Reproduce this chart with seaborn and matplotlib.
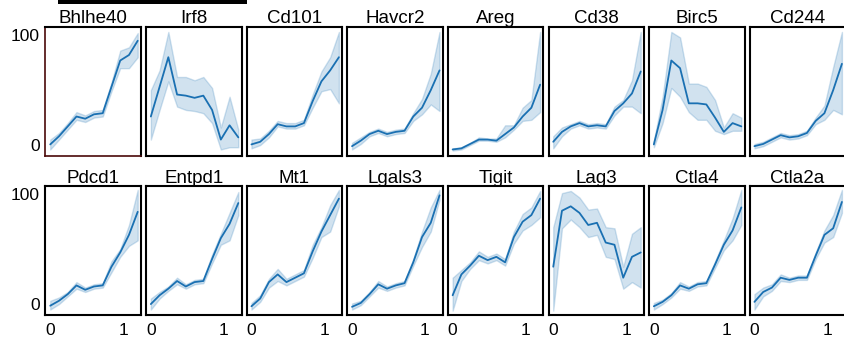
import numpy as np
import pandas as pd
import matplotlib
matplotlib.use("Agg")
import matplotlib.pyplot as plt
from matplotlib.patches import Rectangle
import seaborn as sns

# pseudotime bins shared by every gene
pseudotime = [0.0, 0.12, 0.24, 0.36, 0.48, 0.60, 0.72, 0.84, 0.96, 1.08, 1.20]

genes = ["Bhlhe40", "Irf8", "Cd101", "Havcr2", "Areg", "Cd38", "Birc5", "Cd244",
         "Pdcd1", "Entpd1", "Mt1", "Lgals3", "Tigit", "Lag3", "Ctla4", "Ctla2a"]

# smoothed expression (scaled 0-100) with lower / upper confidence bounds
bhlhe40_mid = [0.6, 8, 17, 26, 24, 28, 29, 53, 77, 82, 95]
bhlhe40_lo = [-4, 5, 14, 23, 21, 25, 26, 49, 70, 70, 80]
bhlhe40_hi = [5, 11, 20, 30, 27, 31, 32, 57, 86, 89, 102]

irf8_mid = [26, 53, 80, 46, 45, 43, 45, 32, 5, 18, 7]
irf8_lo = [5, 32, 58, 35, 32, 31, 29, 20, -4, -2, -2]
irf8_hi = [50, 68, 103, 62, 62, 59, 62, 52, 16, 44, 14]

cd101_mid = [0.6, 3, 10, 19, 17, 17, 20, 40, 58, 68, 80]
cd101_lo = [-3, 0, 7, 17, 15, 15, 18, 34, 49, 51, 38]
cd101_hi = [5, 6, 13, 22, 20, 20, 23, 46, 67, 80, 103]

havcr2_mid = [-1, 4, 10, 13, 10, 12, 13, 26, 34, 50, 68]
havcr2_lo = [-4, 1, 8, 11, 8, 10, 11, 22, 28, 37, 31]
havcr2_hi = [2, 7, 12, 15, 12, 14, 15, 29, 42, 65, 103]

areg_mid = [-4, -3, 1, 5, 5, 4, 10, 16, 26, 34, 55]
areg_lo = [-5, -4, 0, 4, 4, 3, 7, 14, 22, 23, 30]
areg_hi = [-3, -2, 2, 7, 6, 6, 18, 18, 34, 41, 103]

cd38_mid = [3, 12, 17, 20, 17, 18, 17, 31, 38, 47, 67]
cd38_lo = [-3, 8, 15, 18, 15, 16, 15, 27, 35, 35, 29]
cd38_hi = [8, 16, 19, 22, 19, 20, 19, 35, 41, 59, 103]

birc5_mid = [0.6, 32, 77, 70, 38, 38, 37, 25, 12, 20, 17]
birc5_lo = [-2, 20, 52, 44, 30, 23, 23, 13, 10, 13, 13]
birc5_hi = [4, 44, 103, 98, 56, 56, 53, 41, 16, 29, 25]

cd244_mid = [-1, 1, 5, 9, 7, 8, 11, 22, 29, 50, 74]
cd244_lo = [-3, -1, 3, 7, 5, 6, 9, 19, 23, 32, 28]
cd244_hi = [1, 3, 7, 11, 9, 10, 13, 25, 36, 71, 103]

pdcd1_mid = [-1.5, 3, 9, 17, 13, 16, 17, 34, 47, 63, 84]
pdcd1_lo = [-5, 0, 7, 14, 11, 14, 15, 29, 43, 53, 58]
pdcd1_hi = [3, 6, 11, 20, 15, 18, 19, 39, 50, 72, 104]

entpd1_mid = [0, 8, 14, 21, 16, 20, 21, 41, 60, 73, 92]
entpd1_lo = [-5, 5, 12, 18, 14, 18, 19, 37, 54, 58, 81]
entpd1_hi = [5, 11, 16, 24, 18, 22, 23, 45, 64, 83, 102]

mt1_mid = [-2, 5, 20, 27, 20, 24, 28, 48, 66, 81, 96]
mt1_lo = [-5, 2, 15, 21, 17, 21, 25, 42, 61, 66, 89]
mt1_hi = [1, 8, 23, 32, 23, 27, 31, 54, 70, 90, 104]

lgals3_mid = [-2.5, 1, 9, 18, 14, 17, 19, 38, 61, 74, 99]
lgals3_lo = [-5, -1, 7, 15, 12, 15, 17, 35, 52, 66, 95]
lgals3_hi = [0.5, 3, 11, 21, 16, 19, 21, 41, 66, 88, 104]

tigit_mid = [8, 27, 35, 44, 40, 43, 38, 61, 75, 81, 96]
tigit_lo = [-6, 21, 32, 40, 37, 40, 35, 55, 67, 72, 79]
tigit_hi = [24, 31, 38, 48, 43, 46, 41, 66, 82, 88, 103]

lag3_mid = [34, 85, 89, 83, 72, 74, 56, 54, 24, 43, 47]
lag3_lo = [-6, 69, 77, 70, 61, 63, 43, 41, 14, 20, 15]
lag3_hi = [70, 101, 103, 97, 86, 87, 70, 69, 34, 64, 70]

ctla4_mid = [-2, 2, 8, 17, 14, 18, 19, 36, 54, 67, 88]
ctla4_lo = [-5, 0, 6, 14, 12, 16, 17, 33, 49, 58, 72]
ctla4_hi = [1, 4, 10, 20, 16, 20, 21, 39, 58, 78, 104]

ctla2a_mid = [2, 11, 15, 24, 22, 24, 24, 44, 63, 69, 93]
ctla2a_lo = [-5, 7, 12, 21, 20, 22, 22, 41, 56, 61, 83]
ctla2a_hi = [9, 15, 18, 27, 24, 26, 26, 47, 67, 81, 104]

mids = [bhlhe40_mid, irf8_mid, cd101_mid, havcr2_mid, areg_mid, cd38_mid, birc5_mid, cd244_mid,
        pdcd1_mid, entpd1_mid, mt1_mid, lgals3_mid, tigit_mid, lag3_mid, ctla4_mid, ctla2a_mid]
los = [bhlhe40_lo, irf8_lo, cd101_lo, havcr2_lo, areg_lo, cd38_lo, birc5_lo, cd244_lo,
       pdcd1_lo, entpd1_lo, mt1_lo, lgals3_lo, tigit_lo, lag3_lo, ctla4_lo, ctla2a_lo]
his = [bhlhe40_hi, irf8_hi, cd101_hi, havcr2_hi, areg_hi, cd38_hi, birc5_hi, cd244_hi,
       pdcd1_hi, entpd1_hi, mt1_hi, lgals3_hi, tigit_hi, lag3_hi, ctla4_hi, ctla2a_hi]

# long-form table: low / mid / high per bin, so median = curve and full range = band
rows = []
for g, m, lo, hi in zip(genes, mids, los, his):
    for t, a, b, c in zip(pseudotime, lo, m, hi):
        for v in (a, b, c):
            rows.append({"gene": g, "pseudotime": t, "expr": v})
df = pd.DataFrame(rows)

sns.set_theme(style="white")
plt.rcParams["font.family"] = ["Liberation Sans", "DejaVu Sans"]
plt.rcParams["text.color"] = "black"
plt.rcParams["axes.titlecolor"] = "black"
plt.rcParams["xtick.color"] = "black"
plt.rcParams["ytick.color"] = "black"

W, H = 845, 341
fig = plt.figure(figsize=(W / 100, H / 100), dpi=100)

line_color = "#1a70b2"
left0, step, aw = 45.5, 100.6, 95.5
row_tops = [27.0, 186.0]
ah = 128.5

for i, g in enumerate(genes):
    r, c = divmod(i, 8)
    x0 = left0 + c * step
    y0 = row_tops[r]
    ax = fig.add_axes([x0 / W, 1 - (y0 + ah) / H, aw / W, ah / H])
    sns.lineplot(data=df[df["gene"] == g], x="pseudotime", y="expr",
                 estimator="median", errorbar=("pi", 100),
                 color=line_color, linewidth=1.3, ax=ax)
    ax.set_xlim(-0.065, 1.245)
    ax.set_ylim(-9.5, 107.5)
    ax.set_xticks([0, 1])
    ax.set_yticks([0, 100])
    ax.set_xlabel("")
    ax.set_ylabel("")
    ax.set_title(g, fontsize=13.5, pad=2.5, color="black")
    ax.tick_params(length=0, labelsize=12.5, pad=4, labelcolor="black")
    if c != 0:
        ax.set_yticklabels([])
    else:
        ax.set_yticklabels(["0", "100"])
    if r != 1:
        ax.set_xticklabels([])
    else:
        ax.set_xticklabels(["0", "1"])
        ax.tick_params(axis="x", pad=6)
    for name, s in ax.spines.items():
        s.set_visible(True)
        if i == 0 and name in ("left", "bottom"):
            s.set_color("#4a0808")
            s.set_linewidth(1.2)
        else:
            s.set_color("black")
            s.set_linewidth(1.5)

# black rule across the top
fig.add_artist(Rectangle((58 / W, 1 - 4 / H), (247 - 58) / W, 4 / H,
                         transform=fig.transFigure, color="black", lw=0))

fig.savefig("out.png", dpi=100)
